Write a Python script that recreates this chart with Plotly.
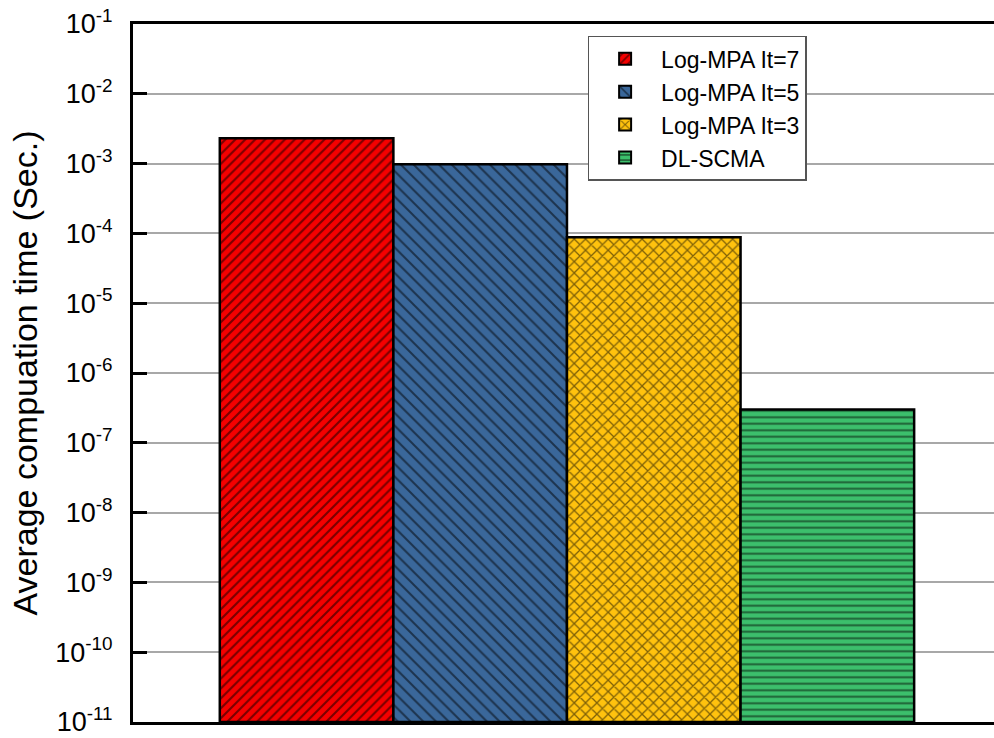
import plotly.graph_objects as go

methods = ["Log-MPA It=7", "Log-MPA It=5", "Log-MPA It=3", "DL-SCMA"]
times = [2.3e-3, 9.8e-4, 8.8e-5, 3.0e-7]
positions = [0, 1, 2, 3]
colors = ["#F50000", "#3A679A", "#FFC20E", "#3CBF6C"]
shapes = ["/", "\\", "x", "-"]
sizes = [7, 9, 8, 6.5]
solid = [0.3, 0.22, 0.3, 0.3]

tick_vals = [10.0 ** e for e in range(-11, 0)]
tick_text = ["10<sup>%d</sup>" % e for e in range(-11, 0)]

fig = go.Figure()
for m, t, p, c, s, sz, so in zip(methods, times, positions, colors, shapes, sizes, solid):
    fig.add_trace(go.Bar(
        x=[p], y=[t], name=m, width=1.0, base=1e-11,
        marker=dict(color=c, line=dict(color="black", width=2.5),
                    pattern=dict(shape=s, fgcolor="black", bgcolor=c,
                                 fillmode="overlay", size=sz, solidity=so)),
    ))

fig.update_layout(
    width=994, height=738,
    margin=dict(l=133, r=0, t=24, b=16, autoexpand=False),
    paper_bgcolor="white", plot_bgcolor="white",
    font=dict(family="Liberation Sans, Arial, sans-serif", color="black"),
    showlegend=True,
    legend=dict(x=0.528, y=0.983, xanchor="left", yanchor="top",
                bordercolor="#555555", borderwidth=1.5, bgcolor="white",
                font=dict(size=23), itemwidth=62, tracegroupgap=0,
                itemsizing="constant"),
    barmode="overlay",
)
fig.update_xaxes(range=[-1.0, 3.96], showticklabels=False, ticks="",
                 showgrid=False, zeroline=False, automargin=False,
                 showline=True, linecolor="black", linewidth=3, mirror=True)
fig.update_yaxes(type="log", range=[-11, -1], tickvals=tick_vals, ticktext=tick_text,
                 ticks="inside", ticklen=14, tickwidth=2.5, tickcolor="black",
                 ticklabelstandoff=12, ticklabeloverflow="allow", automargin=False,
                 showline=True, linecolor="black", linewidth=3,
                 showgrid=True, gridcolor="#A8A8A8", gridwidth=1.5,
                 tickfont=dict(size=27),
                 title=dict(text="Average compuation time (Sec.)", font=dict(size=34), standoff=8))

fig.write_html("out.html", config={"displayModeBar": False},
               post_script="document.body.style.margin='0';document.body.style.overflow='hidden';")
